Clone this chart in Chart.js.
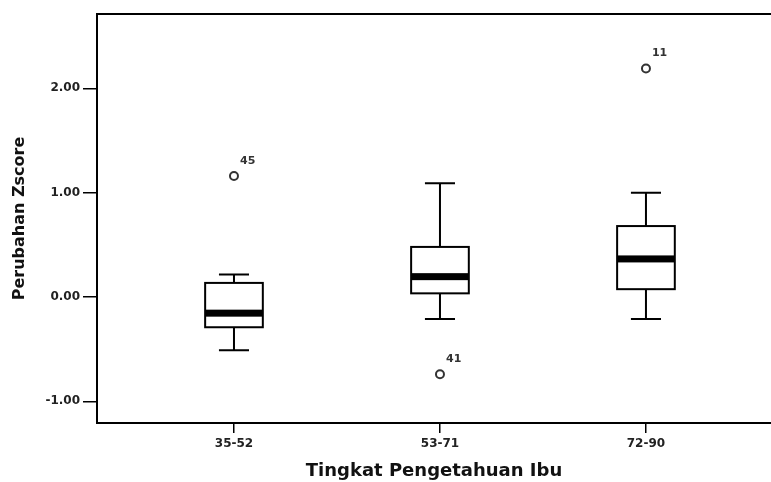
<!DOCTYPE html>
<html>
<head>
<meta charset="utf-8">
<script src="https://cdn.jsdelivr.net/npm/chart.js@4"></script>
<style>
  html, body { margin: 0; padding: 0; background: #fff; overflow: hidden; }
  #wrap { width: 771px; height: 482px; }
</style>
</head>
<body>
<div id="wrap"><canvas id="myChart" width="771" height="482"></canvas></div>
<script>
// data
let categories = ['35-52', '53-71', '72-90'];
let whiskerLow = [-0.51, -0.21, -0.21];
let q1 = [-0.29, 0.035, 0.075];
let median = [-0.155, 0.195, 0.365];
let q3 = [0.135, 0.48, 0.68];
let whiskerHigh = [0.215, 1.09, 1.0];
let outlierGroup = [0, 1, 2];
let outlierValue = [1.16, -0.74, 2.19];
let outlierLabel = ['45', '41', '11'];
let yTicks = [-1, 0, 1, 2];

// styles
let boxWidth = 0.28;     // share of one category step
let capWidth = 0.146;
let medianThick = 7;

let ctx = document.getElementById('myChart').getContext('2d');

// boxes, whiskers, top border and outlier ids
let boxPlugin = {
  id: 'boxes',
  beforeDatasetsDraw(chart) {
    let c = chart.ctx;
    let xs = chart.scales.x, ys = chart.scales.y;
    let area = chart.chartArea;
    c.save();
    c.strokeStyle = '#000';
    c.lineWidth = 2;
    // top border
    c.beginPath();
    c.moveTo(area.left - 1, area.top);
    c.lineTo(area.right + 10, area.top);
    c.stroke();

    categories.forEach((cat, i) => {
      let x0 = xs.getPixelForValue(i - boxWidth / 2);
      let x1 = xs.getPixelForValue(i + boxWidth / 2);
      let xm = xs.getPixelForValue(i);
      let c0 = xs.getPixelForValue(i - capWidth / 2);
      let c1 = xs.getPixelForValue(i + capWidth / 2);
      let yLo = ys.getPixelForValue(whiskerLow[i]);
      let yHi = ys.getPixelForValue(whiskerHigh[i]);
      let yQ1 = ys.getPixelForValue(q1[i]);
      let yQ3 = ys.getPixelForValue(q3[i]);
      let yMed = ys.getPixelForValue(median[i]);

      c.beginPath();
      c.moveTo(xm, yHi); c.lineTo(xm, yQ3);
      c.moveTo(xm, yQ1); c.lineTo(xm, yLo);
      c.moveTo(c0, yHi); c.lineTo(c1, yHi);
      c.moveTo(c0, yLo); c.lineTo(c1, yLo);
      c.stroke();

      c.fillStyle = '#fff';
      c.fillRect(x0, yQ3, x1 - x0, yQ1 - yQ3);
      c.strokeRect(x0, yQ3, x1 - x0, yQ1 - yQ3);

      c.fillStyle = '#000';
      c.fillRect(x0, yMed - medianThick / 2, x1 - x0, medianThick);
    });
    c.restore();
  },
  afterDatasetsDraw(chart) {
    let c = chart.ctx;
    let xs = chart.scales.x, ys = chart.scales.y;
    c.save();
    c.fillStyle = '#333';
    c.font = 'bold 11px "DejaVu Sans"';
    c.textBaseline = 'middle';
    outlierValue.forEach((v, i) => {
      let px = xs.getPixelForValue(outlierGroup[i]);
      let py = ys.getPixelForValue(v);
      c.fillText(outlierLabel[i], px + 6, py - 15);
    });
    c.restore();
  }
};

let chart = new Chart(ctx, {
  type: 'scatter',
  data: {
    datasets: [{
      data: outlierValue.map((v, i) => ({ x: outlierGroup[i], y: v })),
      pointStyle: 'circle',
      pointRadius: 4,
      pointBorderWidth: 2,
      pointBorderColor: '#333',
      pointBackgroundColor: '#fff',
      pointHoverRadius: 4
    }]
  },
  options: {
    responsive: false,
    animation: false,
    events: [],
    layout: { autoPadding: false, padding: { top: 14, right: 0, left: 0, bottom: 0 } },
    plugins: { legend: { display: false }, tooltip: { enabled: false } },
    scales: {
      x: {
        type: 'linear',
        min: -0.665,
        max: 2.607,
        afterBuildTicks: (s) => { s.ticks = categories.map((c, i) => ({ value: i })); },
        afterFit: (s) => { s.height = 59; s.paddingLeft = 0; s.paddingRight = 0; },
        ticks: {
          callback: (v) => categories[v],
          color: '#222',
          font: { family: 'DejaVu Sans', size: 12, weight: 'bold' },
          padding: 4,
          maxRotation: 0
        },
        grid: { drawOnChartArea: false, tickLength: 10, color: '#000', lineWidth: 1.5 },
        border: { color: '#000', width: 2 },
        title: {
          display: true,
          text: 'Tingkat Pengetahuan Ibu',
          color: '#111',
          font: { family: 'DejaVu Sans', size: 18, weight: 'bold' },
          padding: { top: 0, bottom: 0 }
        }
      },
      y: {
        type: 'linear',
        min: -1.208,
        max: 2.713,
        afterBuildTicks: (s) => { s.ticks = yTicks.map(v => ({ value: v })); },
        afterFit: (s) => { s.width = 97; s.paddingTop = 0; s.paddingBottom = 0; },
        ticks: {
          callback: (v) => v.toFixed(2),
          color: '#222',
          font: { family: 'DejaVu Sans', size: 12, weight: 'bold' },
          padding: 3
        },
        grid: { drawOnChartArea: false, tickLength: 14, color: '#000', lineWidth: 1.5 },
        border: { color: '#000', width: 2 },
        title: {
          display: true,
          text: 'Perubahan Zscore',
          color: '#111',
          font: { family: 'DejaVu Sans', size: 16, weight: 'bold' },
          padding: { top: 10, bottom: 0 }
        }
      }
    }
  },
  plugins: [boxPlugin]
});
</script>
</body>
</html>
